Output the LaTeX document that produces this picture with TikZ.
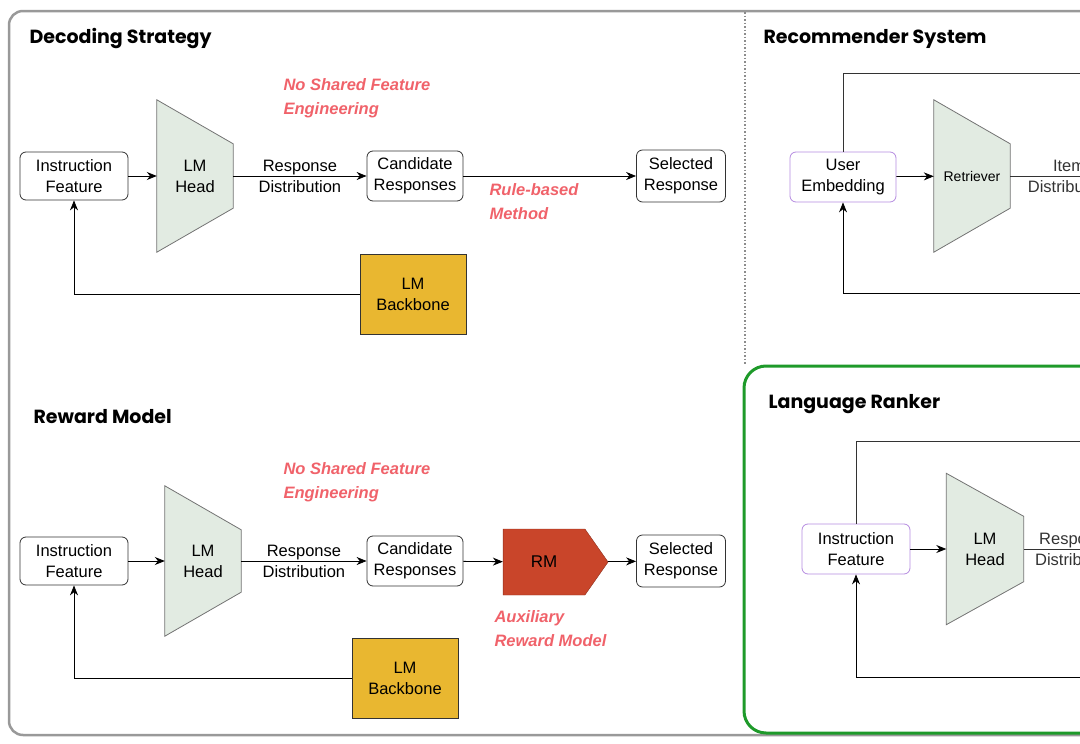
\documentclass[tikz,border=0pt]{standalone}
\usepackage{fontspec}
\setmainfont{Liberation Sans}
\newfontfamily\headfont{Poppins}
\usetikzlibrary{positioning,arrows.meta,shapes.geometric,shapes.symbols}

\definecolor{headgreen}{HTML}{E2EBE2}
\definecolor{gold}{HTML}{E9B730}
\definecolor{rmred}{HTML}{C9452A}
\definecolor{notered}{HTML}{F0626A}
\definecolor{userpurple}{HTML}{B58BE0}
\definecolor{framegreen}{HTML}{1E9A2A}

\begin{document}
\begin{tikzpicture}[
    x=1pt, y=-1pt,
    every node/.style={font=\fontsize{16.5}{21}\selectfont, align=center},
    box/.style={rectangle, rounded corners=6pt, draw=black!80, thick, fill=white, inner sep=1pt},
    userbox/.style={box, draw=userpurple},
    funnel/.style={rectangle, minimum width=76pt, minimum height=152pt},
    funnelshape/.style={fill=headgreen, draw=black!55, thick},
    backbone/.style={rectangle, draw=black!80, fill=gold, minimum width=106pt, minimum height=80pt},
    title/.style={font=\headfont\bfseries\fontsize{19}{22}\selectfont, anchor=west},
    note/.style={font=\bfseries\itshape\fontsize{16.5}{24}\selectfont, text=notered, align=left, anchor=north west},
    arrow/.style={thick, -{Stealth[length=10pt, width=8pt]}},
    line/.style={thick, black!80}
]
\useasboundingbox (0,0) rectangle (1080,744);
\clip (0,0) rectangle (1080,744);

% Frames
\draw[black!40, line width=2.5pt, rounded corners=14pt] (9,11) rectangle (1120,735);
\draw[black!45, line width=1.5pt, dotted] (745,12) -- (745,365);
\draw[framegreen, line width=3pt, rounded corners=22pt] (744,366) rectangle (1120,733);

% Decoding Strategy
\node[title] (tds) at (26,39) {Decoding Strategy};
\node[box, minimum width=108pt, minimum height=48pt] (if1) at (74,176) {Instruction\\Feature};
\node[funnel] (lm1) at (195,176) {};
\draw[funnelshape] (lm1.north west) -- ([yshift=-44pt]lm1.north east) -- ([yshift=44pt]lm1.south east) -- (lm1.south west) -- cycle;
\node at (lm1) {LM\\Head};
\node[box, minimum width=96pt, minimum height=50pt] (cr1) at (415,176) {Candidate\\Responses};
\node[box, minimum width=89pt, minimum height=52pt] (sr1) at (681,176) {Selected\\Response};
\node[backbone] (bb1) at (413,294) {LM\\Backbone};
\node[note] (ns1) at (280,75) {No Shared Feature\\Engineering};
\node[note] (rb1) at (486,180) {Rule-based\\Method};
\draw[arrow] (if1) -- (lm1);
\draw[arrow] (lm1.east) -- node {Response\\Distribution} (cr1);
\draw[arrow] (cr1) -- (sr1);
\draw[arrow] (bb1.west) -| (if1.south);

% Reward Model
\node[title] (trm) at (30,417) {Reward Model};
\node[box, minimum width=108pt, minimum height=48pt] (if2) at (74,561) {Instruction\\Feature};
\node[funnel, minimum height=150pt] (lm2) at (203,561) {};
\draw[funnelshape] (lm2.north west) -- ([yshift=-44pt]lm2.north east) -- ([yshift=44pt]lm2.south east) -- (lm2.south west) -- cycle;
\node at (lm2) {LM\\Head};
\node[box, minimum width=96pt, minimum height=50pt] (cr2) at (415,561) {Candidate\\Responses};
\node[signal, signal to=east, signal pointer angle=110, fill=rmred, draw=rmred!70!black, minimum width=105pt, minimum height=66pt, font=\fontsize{17}{20}\selectfont] (rm) at (544,562) {RM};
\node[box, minimum width=89pt, minimum height=52pt] (sr2) at (681,561) {Selected\\Response};
\node[backbone] (bb2) at (405,678) {LM\\Backbone};
\node[note] (ns2) at (280,459) {No Shared Feature\\Engineering};
\node[note] (ar) at (491,607) {Auxiliary\\Reward Model};
\draw[arrow] (if2) -- (lm2);
\draw[arrow] (lm2.east) -- node {Response\\Distribution} (cr2);
\draw[arrow] (cr2) -- (rm);
\draw[arrow] (rm) -- (sr2);
\draw[arrow] (bb2.west) -| (if2.south);

% Recommender System
\node[title] (trs) at (760,39) {Recommender System};
\node[userbox, minimum width=106pt, minimum height=50pt] (ue) at (843,177) {User\\Embedding};
\node[funnel] (rt) at (972,176) {};
\draw[funnelshape] (rt.north west) -- ([yshift=-44pt]rt.north east) -- ([yshift=44pt]rt.south east) -- (rt.south west) -- cycle;
\node[font=\fontsize{14}{17}\selectfont] at (rt) {Retriever};
\coordinate (rsout) at (1110,176);
\coordinate (rstop) at (1110,73);
\coordinate (rsbot) at (1110,293);
\draw[arrow] (ue) -- (rt);
\draw[line] (rt.east) -- node[xshift=9pt] {Item\\Distribution} (rsout);
\draw[line] (ue.north) |- (rstop);
\draw[arrow] (rsbot) -| (ue.south);

% Language Ranker
\node[title] (tlr) at (765,404) {Language Ranker};
\node[userbox, minimum width=108pt, minimum height=50pt] (if3) at (856,549) {Instruction\\Feature};
\node[funnel, minimum width=77pt, minimum height=151pt] (lm3) at (985,549) {};
\draw[funnelshape] (lm3.north west) -- ([yshift=-43pt]lm3.north east) -- ([yshift=43pt]lm3.south east) -- (lm3.south west) -- cycle;
\node at (lm3) {LM\\Head};
\coordinate (lrout) at (1135,549);
\coordinate (lrtop) at (1135,441);
\coordinate (lrbot) at (1135,677);
\draw[arrow] (if3) -- (lm3);
\draw[line] (lm3.east) -- node[xshift=-3pt] {Response\\Distribution} (lrout);
\draw[line] (if3.north) |- (lrtop);
\draw[arrow] (lrbot) -| (if3.south);

\end{tikzpicture}
\end{document}
